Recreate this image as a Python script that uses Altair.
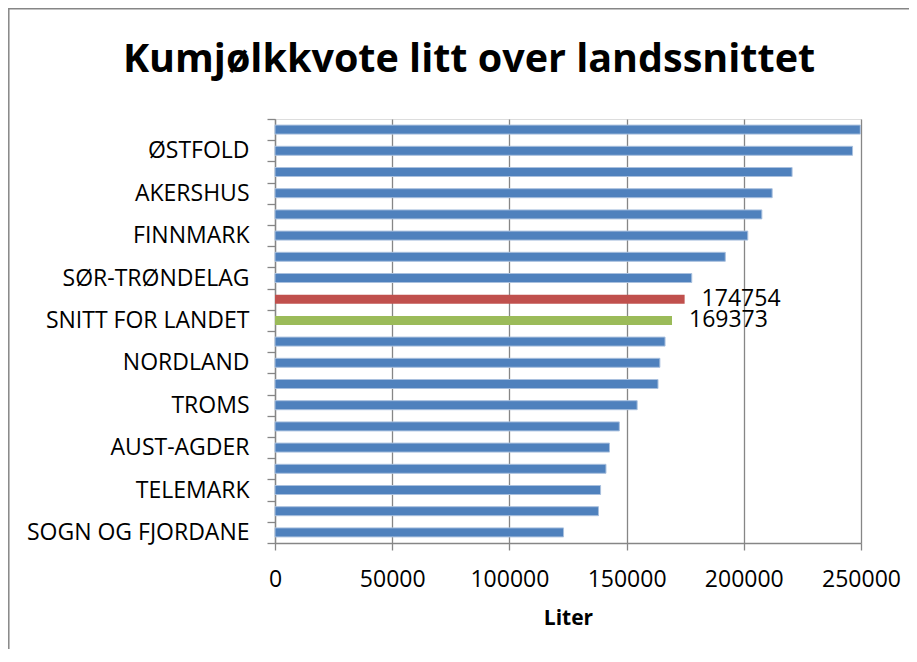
import altair as alt
import pandas as pd

# ---- data (top bar first) ----
title_text = "Kumjølkkvote litt over landssnittet"
categories = [
    "VESTFOLD", "ØSTFOLD", "ROGALAND", "AKERSHUS", "NORD-TRØNDELAG",
    "FINNMARK", "HEDMARK", "SØR-TRØNDELAG", "UTVALGT KOMMUNE", "SNITT FOR LANDET",
    "OPPLAND", "NORDLAND", "BUSKERUD", "TROMS", "MØRE OG ROMSDAL",
    "AUST-AGDER", "VEST-AGDER", "TELEMARK", "HORDALAND", "SOGN OG FJORDANE",
]
values = [
    249700, 246400, 220600, 212100, 207700,
    201700, 192100, 177800, 174754, 169373,
    166400, 164200, 163400, 154500, 146900,
    142700, 141200, 138900, 138000, 123100,
]
groups = (["fylke"] * 8 + ["utvalgt", "snitt"] + ["fylke"] * 10)
shown_labels = [
    "ØSTFOLD", "AKERSHUS", "FINNMARK", "SØR-TRØNDELAG", "SNITT FOR LANDET",
    "NORDLAND", "TROMS", "AUST-AGDER", "TELEMARK", "SOGN OG FJORDANE",
]
x_ticks = [0, 50000, 100000, 150000, 200000, 250000]
group_domain = ["fylke", "utvalgt", "snitt"]
group_colors = ["#4F81BD", "#C0504D", "#9BBB59"]

df = pd.DataFrame({"kategori": categories, "liter": values, "gruppe": groups})

FONT = "Open Sans"
GRAY = "#868686"
FS = 23

label_expr = "indexof([" + ",".join("'" + s + "'" for s in shown_labels) + "], datum.value) >= 0 ? datum.value : ''"

y_enc = alt.Y(
    "kategori:N",
    sort=categories,
    title=None,
    scale=alt.Scale(paddingInner=0, paddingOuter=0),
    axis=alt.Axis(
        tickBand="extent",
        labelExpr=label_expr,
        tickSize=8,
        tickColor=GRAY,
        tickWidth=1.3,
        domainColor=GRAY,
        domainWidth=1.3,
        labelPadding=18,
        labelFontSize=FS,
        labelFont=FONT,
        labelColor="black",
        labelLimit=400,
        grid=False,
    ),
)

x_enc = alt.X(
    "liter:Q",
    scale=alt.Scale(domain=[0, 250000], nice=False),
    axis=alt.Axis(
        values=x_ticks,
        format="d",
        grid=True,
        gridColor=GRAY,
        gridWidth=1.3,
        tickSize=7,
        tickColor=GRAY,
        tickWidth=1.3,
        domainColor=GRAY,
        domainWidth=1.3,
        labelPadding=18,
        labelFontSize=FS,
        labelFont=FONT,
        labelColor="black",
        labelFlush=False,
        title="Liter",
        titleFont=FONT,
        titleFontSize=21,
        titleFontWeight="bold",
        titleColor="black",
        titlePadding=16,
    ),
)

bars = alt.Chart(df).mark_bar(size=9, strokeWidth=1).encode(
    y=y_enc,
    x=x_enc,
    color=alt.Color("gruppe:N", scale=alt.Scale(domain=group_domain, range=group_colors), legend=None),
    stroke=alt.condition(alt.datum.gruppe == "fylke", alt.value("#A9C0DE"), alt.value("transparent")),
)

labels = alt.Chart(df).transform_filter(alt.datum.gruppe != "fylke").mark_text(
    align="left", baseline="middle", dx=17, fontSize=FS, font=FONT, color="black"
).encode(
    y=alt.Y("kategori:N", sort=categories),
    x=alt.X("liter:Q"),
    text=alt.Text("liter:Q", format="d"),
)

frame_df = pd.DataFrame({"k": [0]})
title_mark = alt.Chart(pd.DataFrame({"t": [title_text]})).mark_text(
    align="center", baseline="alphabetic", font=FONT, fontSize=39.5, fontWeight="bold", color="black"
).encode(x=alt.value(194), y=alt.value(-47), text="t:N")

border_top = alt.Chart(frame_df).mark_rule(color=GRAY, strokeWidth=1.5).encode(
    x=alt.value(-266.5), x2=alt.value(634), y=alt.value(-110.2)
)
border_left = alt.Chart(frame_df).mark_rule(color=GRAY, strokeWidth=1.5).encode(
    x=alt.value(-266.2), y=alt.value(-111), y2=alt.value(535)
)

chart = alt.layer(bars, labels, title_mark, border_top, border_left).properties(
    width=586,
    height=424,
    autosize=alt.AutoSizeParams(type="none"),
    padding={"left": 267, "top": 111, "right": 48, "bottom": 106},
).configure_view(stroke=None).configure(background="white")

chart.save("out.html", embed_options={"renderer": "svg", "actions": False})
